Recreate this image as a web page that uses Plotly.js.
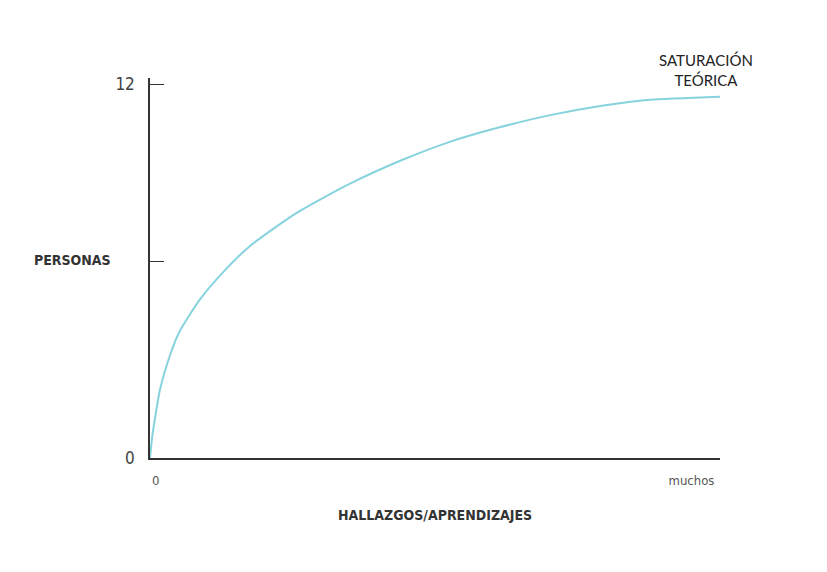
<!DOCTYPE html>
<html><head><meta charset="utf-8">
<script src="https://cdn.plot.ly/plotly-3.0.1.min.js"></script>
<style>body{margin:0;background:#fff}</style>
</head><body>
<div id="chart" style="width:827px;height:572px"></div>
<script>
const hallazgos = [0, 0.4, 0.9, 1.75, 3.5, 5.3, 8.8, 13, 17.5, 26, 35, 44, 52.6, 61, 70, 79, 87.7, 100];
const personas = [0, 0.7, 1.3, 2.2, 3.3, 4.1, 5.1, 6.0, 6.8, 7.9, 8.8, 9.55, 10.15, 10.6, 11.0, 11.3, 11.5, 11.6];
const yTicks = [0, 6.3, 12];
const yTickText = ['0', '', '12'];
const xTicks = [1, 95];
const xTickText = ['0', 'muchos'];

const axisFont = {family: 'DejaVu Sans Condensed, Liberation Sans Narrow, sans-serif', size: 14, color: '#333'};

Plotly.newPlot('chart', [{
  x: hallazgos, y: personas, mode: 'lines', type: 'scatter',
  line: {color: '#86d3de', width: 2, shape: 'spline', smoothing: 0.6},
  hoverinfo: 'skip'
}], {
  width: 827, height: 572,
  margin: {l: 150, r: 107, t: 78, b: 114},
  paper_bgcolor: '#fff', plot_bgcolor: '#fff',
  showlegend: false,
  xaxis: {range: [0, 100], showgrid: false, zeroline: false, showline: true, linecolor: '#333', linewidth: 1.5,
    tickvals: xTicks, ticktext: xTickText, ticks: '', ticklabelstandoff: 10,
    tickfont: {family: axisFont.family, size: 13, color: '#555'}},
  yaxis: {range: [0, 12.2], showgrid: false, zeroline: false, showline: true, linecolor: '#333', linewidth: 1.5,
    tickvals: yTicks, ticktext: yTickText, ticks: 'inside', ticklen: 14, tickcolor: '#333', ticklabelstandoff: 10,
    tickfont: {family: axisFont.family, size: 17, color: '#444'}},
  annotations: [
    {text: '<b>PERSONAS</b>', xref: 'paper', yref: 'paper', x: -0.065, y: 0.52, xanchor: 'right', yanchor: 'middle', showarrow: false, font: axisFont},
    {text: '<b>HALLAZGOS/APRENDIZAJES</b>', xref: 'paper', yref: 'paper', x: 0.5, y: -0.15, xanchor: 'center', yanchor: 'middle', showarrow: false, font: axisFont},
    {text: 'SATURACIÓN<br>TEÓRICA', xref: 'paper', yref: 'paper', x: 0.975, y: 0.965, xanchor: 'center', yanchor: 'bottom', showarrow: false,
     font: {family: 'Lato, sans-serif', size: 15, color: '#222'}}
  ]
}, {displayModeBar: false});
</script>
</body></html>
